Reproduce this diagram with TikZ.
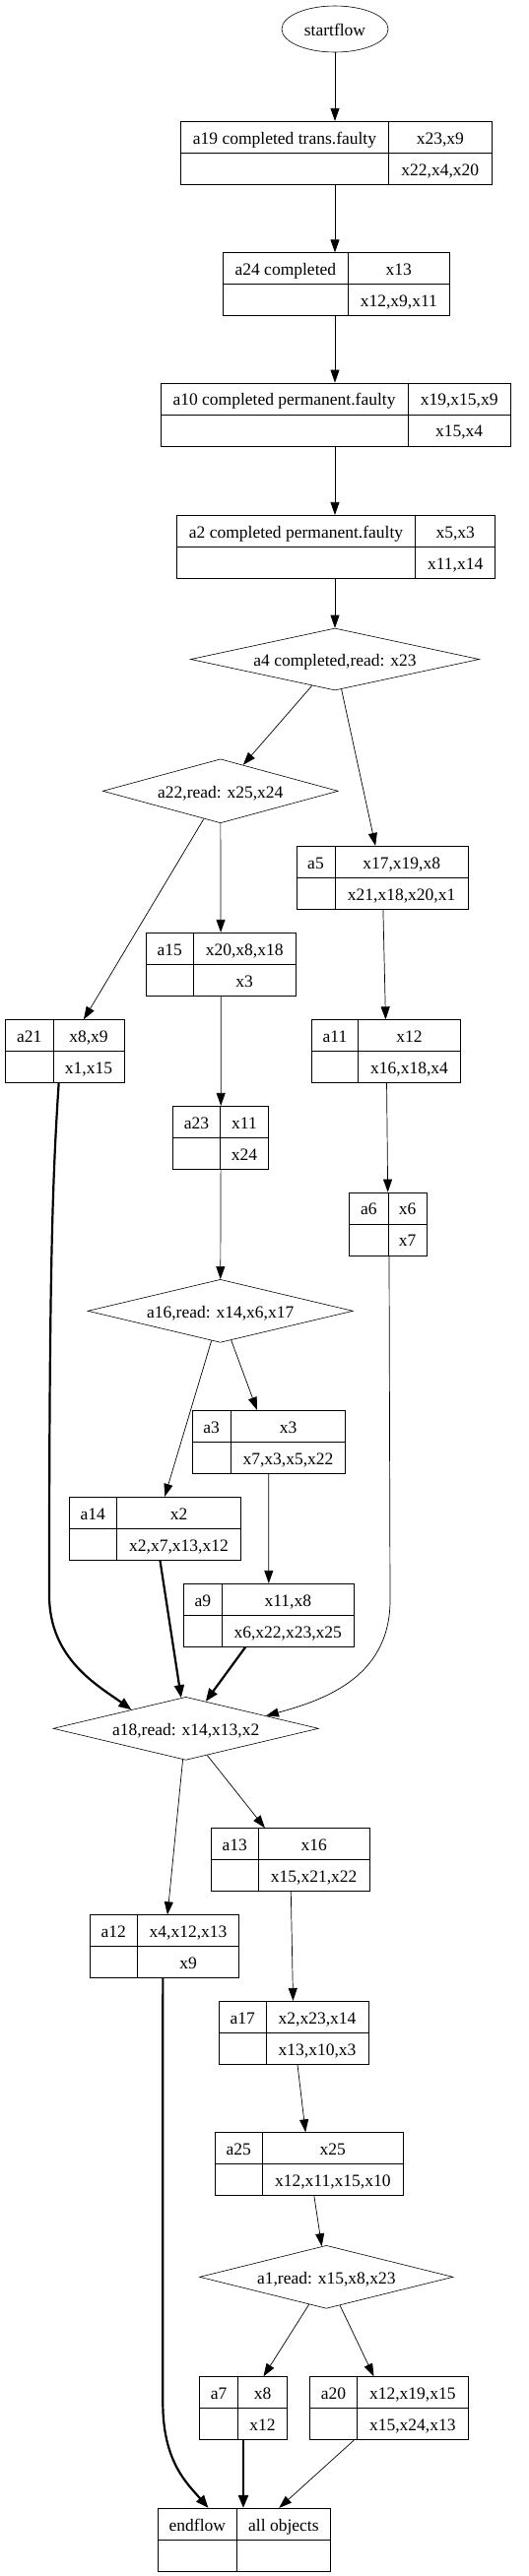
\documentclass[tikz,border=0pt]{standalone}
\usepackage{fontspec}
\setmainfont{Liberation Serif}
\usetikzlibrary{shapes.geometric,arrows.meta,fit,calc}
\tikzset{
  edge/.style={line width=0.7pt, -{Triangle[length=13pt,width=9pt]}},
  bold/.style={line width=2.2pt, -{Triangle[length=13pt,width=10pt]}},
  recbox/.style={draw, line width=0.8pt, inner sep=0pt},
  txt/.style={font=\fontsize{17.5}{20}\selectfont, text height=13.5pt, text depth=0pt},
  lbl/.style={txt, inner sep=0pt},
  dia/.style={draw, diamond, aspect=4, line width=0.6pt, inner sep=0pt, txt},
}
\newcommand\rec[9]{%
  \node[recbox, fit={(#2,#3) (#4,#5)}] (#1) {};
  \draw[line width=0.8pt] (#1.west) -- (#1.east) (#6,#3) -- (#6,#5);
  \node[lbl] at ({(#2+#6)/2},{(3*#3+#5)/4}) {#7};
  \node[lbl] at ({(#6+#4)/2},{(3*#3+#5)/4}) {#8};
  \node[lbl] at ({(#6+#4)/2},{(#3+3*#5)/4}) {#9};
}
\begin{document}
\begin{tikzpicture}[x=1pt,y=-1pt]
\useasboundingbox (0,0) rectangle (537,2616);
\node[draw, ellipse, line width=0.6pt, minimum width=108pt, minimum height=47pt, inner sep=0pt, txt] (start) at (340,29.5) {startflow};
\rec{a19}{183.3}{123.3}{499}{187.3}{394.7}{a19 completed trans.faulty}{x23,x9}{x22,x4,x20}
\rec{a24}{226}{256.7}{456}{320.7}{353.7}{a24 completed}{x13}{x12,x9,x11}
\rec{a10}{163}{389}{518.3}{453.3}{414}{a10 completed permanent.faulty}{x19,x15,x9}{x15,x4}
\rec{a2}{179.3}{523.3}{502.7}{587.3}{421.7}{a2 completed permanent.faulty}{x5,x3}{x11,x14}
\node[dia, minimum width=293pt, minimum height=63pt] (a4) at (340,669.5) {a4 completed,read: x23};
\node[dia, minimum width=239pt, minimum height=65pt] (a22) at (223.8,803.3) {a22,read: x25,x24};
\rec{a5}{301}{859.3}{475.3}{923.3}{340}{a5}{x17,x19,x8}{x21,x18,x20,x1}
\rec{a15}{148.3}{947.3}{300}{1011.3}{196.3}{a15}{x20,x8,x18}{x3}
\rec{a21}{5.3}{1035.7}{126}{1099.7}{54}{a21}{x8,x9}{x1,x15}
\rec{a11}{316.7}{1035.7}{467.7}{1099.7}{363.3}{a11}{x12}{x16,x18,x4}
\rec{a23}{175.7}{1123.3}{272.7}{1187.3}{223.3}{a23}{x11}{x24}
\rec{a6}{354.7}{1211}{433.3}{1275}{394}{a6}{x6}{x7}
\node[dia, minimum width=269.3pt, minimum height=64pt] (a16) at (223.7,1331.3) {a16,read: x14,x6,x17};
\rec{a3}{195}{1432.3}{350.7}{1496.3}{234.3}{a3}{x3}{x7,x3,x5,x22}
\rec{a14}{70.3}{1520.3}{244.7}{1584.3}{118.3}{a14}{x2}{x2,x7,x13,x12}
\rec{a9}{186.3}{1608.3}{359.3}{1672.3}{225.3}{a9}{x11,x8}{x6,x22,x23,x25}
\node[dia, minimum width=269.3pt, minimum height=64pt] (a18) at (188.7,1755.3) {a18,read: x14,x13,x2};
\rec{a13}{214.3}{1856.7}{375}{1920.7}{262.3}{a13}{x16}{x15,x21,x22}
\rec{a12}{91}{1944.7}{242.7}{2008.7}{139.3}{a12}{x4,x12,x13}{x9}
\rec{a17}{222.3}{2032.3}{374}{2096.3}{270}{a17}{x2,x23,x14}{x13,x10,x3}
\rec{a25}{218.3}{2165.7}{409.7}{2229.7}{266}{a25}{x25}{x12,x11,x15,x10}
\node[dia, minimum width=257.3pt, minimum height=64pt] (a1) at (331.3,2312.3) {a1,read: x15,x8,x23};
\rec{a7}{202.7}{2413.7}{291.3}{2477.7}{241.7}{a7}{x8}{x12}
\rec{a20}{314.7}{2413.7}{475.3}{2477.7}{362.3}{a20}{x12,x19,x15}{x15,x24,x13}
\rec{endflow}{160}{2547.3}{335}{2611.3}{240.7}{endflow}{all objects}{}
% edges
\draw[edge] (start.south) -- (start.south |- a19.north);
\draw[edge] (start.south |- a19.south) -- (start.south |- a24.north);
\draw[edge] (start.south |- a24.south) -- (start.south |- a10.north);
\draw[edge] (start.south |- a10.south) -- (start.south |- a2.north);
\draw[edge] (start.south |- a2.south) -- (a4.north);
\draw[edge] (a4) -- (a22);
\draw[edge] (a4) -- (a5);
\draw[edge] (a22) -- (a15);
\draw[edge] (a22) -- (a21);
\draw[edge] (a5) -- (a11);
\draw[edge] (a15) -- (a23);
\draw[edge] (a11) -- (a6);
\draw[edge] (a23) -- (a16);
\draw[edge] (a16) -- (a14);
\draw[edge] (a16) -- (a3);
\draw[edge] (a3) -- (a9);
\draw[bold] ([xshift=-6pt]a21.south) .. controls (53,1200) and (50,1300) .. (50,1620) .. controls (50,1685) and (100,1712) .. (a18.161);
\draw[bold] (a14) -- (a18);
\draw[bold] (a9) -- (a18);
\draw[edge] ([xshift=1pt]a6.south) -- (396,1625) .. controls (396,1700) and (335,1725) .. (a18.9);
\draw[edge] (a18) -- (a12);
\draw[edge] (a18) -- (a13);
\draw[edge] (a13) -- (a17);
\draw[edge] (a17) -- (a25);
\draw[edge] (a25) -- (a1);
\draw[edge] (a1) -- (a7);
\draw[edge] (a1) -- (a20);
\draw[bold] ([xshift=-1.5pt]a12.south) -- (165.3,2440) .. controls (165.3,2500) and (190,2522) .. (endflow.138);
\draw[bold] (a7) -- (a7 |- endflow.north);
\draw[edge] (a20) -- (endflow);
\end{tikzpicture}
\end{document}
